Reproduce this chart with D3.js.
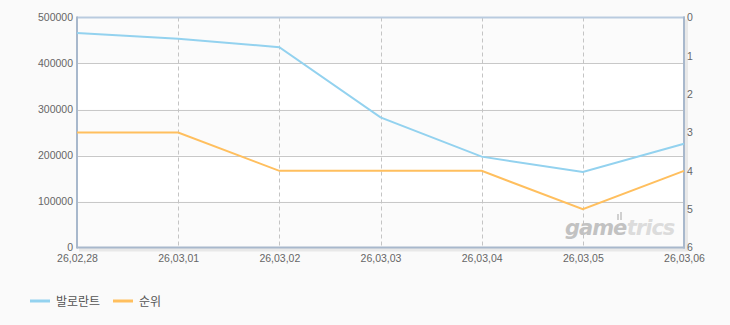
<!DOCTYPE html>
<html>
<head>
<meta charset="utf-8">
<script src="https://cdn.jsdelivr.net/npm/d3@7"></script>
<style>
  body { margin: 0; background: #fafafa; }
  svg { display: block; font-family: "Liberation Sans", "Noto Sans CJK KR", sans-serif; }
  .tick text { fill: #666; font-size: 10.5px; }
</style>
</head>
<body>
<svg class="chart" width="730" height="325"></svg>
<script>
// chart data
const dates = ["26,02,28", "26,03,01", "26,03,02", "26,03,03", "26,03,04", "26,03,05", "26,03,06"];
const players = [466500, 454000, 435500, 283000, 197500, 164000, 225500];
const ranks = [3, 3, 4, 4, 4, 5, 4];
const leftTicks = [0, 100000, 200000, 300000, 400000, 500000];
const rightTicks = [0, 1, 2, 3, 4, 5, 6];
const seriesNames = ["발로란트", "순위"];
const colors = ["#93d2ef", "#ffbf5e"];

const plotLeft = 77, plotRight = 684, plotTop = 17.5, plotBottom = 247.5;

let svg = d3.select(".chart");

let x = d3.scalePoint()
  .domain(dates)
  .range([plotLeft, plotRight]);
let y = d3.scaleLinear()
  .domain([0, 500000])
  .range([plotBottom, plotTop]);
let y2 = d3.scaleLinear()
  .domain([0, 6])
  .range([plotTop, plotBottom]);

// shadow + plot background
svg.append("rect")
  .attr("x", plotLeft + 2).attr("y", plotTop + 2)
  .attr("width", plotRight - plotLeft + 2).attr("height", plotBottom - plotTop + 2)
  .attr("fill", "#e8e8e8");
svg.append("rect")
  .attr("x", plotLeft).attr("y", plotTop)
  .attr("width", plotRight - plotLeft).attr("height", plotBottom - plotTop)
  .attr("fill", "#ffffff");

// alternating bands
svg.append("g").selectAll("rect")
  .data(leftTicks.slice(0, -1).filter((d, i) => i % 2 === 0))
  .enter().append("rect")
  .attr("x", plotLeft)
  .attr("width", plotRight - plotLeft)
  .attr("y", d => y(d + 100000))
  .attr("height", d => y(d) - y(d + 100000))
  .attr("fill", "#fbfbfb");

// horizontal grid
svg.append("g").selectAll("line")
  .data(leftTicks.slice(1, -1))
  .enter().append("line")
  .attr("x1", plotLeft).attr("x2", plotRight)
  .attr("y1", d => Math.round(y(d)) + 0.5).attr("y2", d => Math.round(y(d)) + 0.5)
  .attr("stroke", "#c8c8c8");

// vertical dashed grid
svg.append("g").selectAll("line")
  .data(dates.slice(1, -1))
  .enter().append("line")
  .attr("x1", d => Math.round(x(d)) + 0.5).attr("x2", d => Math.round(x(d)) + 0.5)
  .attr("y1", plotTop).attr("y2", plotBottom)
  .attr("stroke", "#c4c4c4")
  .attr("stroke-dasharray", "4,3");

// watermark
let wmGame = svg.append("text")
  .attr("x", 565).attr("y", 235)
  .attr("font-size", 21)
  .attr("font-weight", "bold")
  .attr("font-style", "italic")
  .attr("font-family", "DejaVu Sans, sans-serif")
  .attr("letter-spacing", "-1")
  .attr("fill", "#c2c2c2")
  .text("game");
let gameW = wmGame.node().getComputedTextLength();
svg.append("text")
  .attr("x", 565 + gameW + 0.5).attr("y", 235)
  .attr("font-size", 21)
  .attr("font-weight", "bold")
  .attr("font-style", "italic")
  .attr("font-family", "DejaVu Sans, sans-serif")
  .attr("letter-spacing", "-1")
  .attr("fill", "#dcdcdc")
  .text("trics");
svg.append("rect").attr("x", 617).attr("y", 214).attr("width", 2).attr("height", 6).attr("fill", "#d0d0d0");
svg.append("rect").attr("x", 620).attr("y", 212).attr("width", 2).attr("height", 8).attr("fill", "#d0d0d0");

// borders
svg.append("line")
  .attr("x1", plotLeft).attr("x2", plotRight + 1)
  .attr("y1", plotTop).attr("y2", plotTop)
  .attr("stroke", "#b9cbdf").attr("stroke-width", 2);
svg.append("line")
  .attr("x1", plotLeft).attr("x2", plotRight + 1)
  .attr("y1", plotBottom).attr("y2", plotBottom)
  .attr("stroke", "#a8b8cc").attr("stroke-width", 2);
svg.append("line")
  .attr("x1", plotLeft).attr("x2", plotLeft)
  .attr("y1", plotTop - 1).attr("y2", plotBottom + 1)
  .attr("stroke", "#a8b8cc").attr("stroke-width", 2);
svg.append("line")
  .attr("x1", plotRight).attr("x2", plotRight)
  .attr("y1", plotTop - 1).attr("y2", plotBottom + 1)
  .attr("stroke", "#a8b8cc").attr("stroke-width", 2);

// axes
let yAxis = d3.axisLeft(y).tickValues(leftTicks).tickSize(0).tickPadding(4).tickFormat(d3.format("d"));
svg.append("g")
  .attr("transform", `translate(${plotLeft}, 0)`)
  .call(yAxis)
  .call(g => g.select(".domain").remove());

let y2Axis = d3.axisRight(y2).tickValues(rightTicks).tickSize(0).tickPadding(3).tickFormat(d3.format("d"));
svg.append("g")
  .attr("transform", `translate(${plotRight}, 0)`)
  .call(y2Axis)
  .call(g => g.select(".domain").remove());

let xAxis = d3.axisBottom(x).tickSize(0).tickPadding(7);
svg.append("g")
  .attr("transform", `translate(0, ${plotBottom})`)
  .call(xAxis)
  .call(g => g.select(".domain").remove());

// lines
let line1 = d3.line()
  .x((d, i) => x(dates[i]))
  .y(d => y(d));
let line2 = d3.line()
  .x((d, i) => x(dates[i]))
  .y(d => y2(d));

svg.append("path")
  .datum(players)
  .attr("d", line1)
  .attr("fill", "none")
  .attr("stroke", colors[0])
  .attr("stroke-width", 2);
svg.append("path")
  .datum(ranks)
  .attr("d", line2)
  .attr("fill", "none")
  .attr("stroke", colors[1])
  .attr("stroke-width", 2);

// legend
let legend = svg.append("g").selectAll("g")
  .data(seriesNames)
  .enter().append("g")
  .attr("transform", (d, i) => `translate(${30 + i * 83}, 301)`);
legend.append("rect")
  .attr("x", 0).attr("y", -1.5)
  .attr("width", 20).attr("height", 3)
  .attr("fill", (d, i) => colors[i]);
legend.append("text")
  .attr("x", 26).attr("y", 4.5)
  .attr("font-size", 12)
  .attr("fill", "#555")
  .text(d => d);
</script>
</body>
</html>
